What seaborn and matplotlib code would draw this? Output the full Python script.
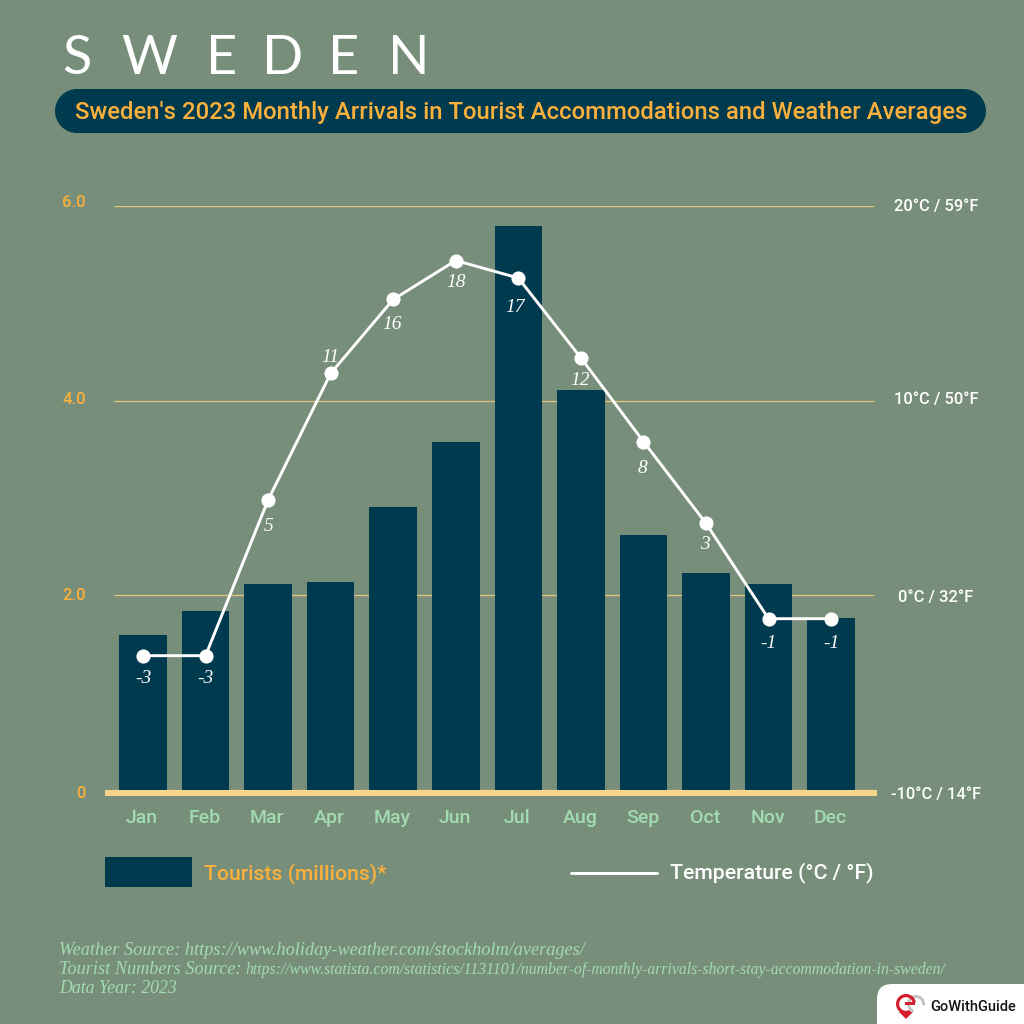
import matplotlib
matplotlib.use('Agg')
import matplotlib.pyplot as plt
import matplotlib.transforms as mtrans
import seaborn as sns
import pandas as pd
from matplotlib.patches import FancyBboxPatch, Rectangle, Circle, Polygon, Wedge

# --- datos ---
meses = ['Jan', 'Feb', 'Mar', 'Apr', 'May', 'Jun', 'Jul', 'Aug', 'Sep', 'Oct', 'Nov', 'Dec']
turistas = [1.59, 1.84, 2.12, 2.14, 2.91, 3.58, 5.79, 4.11, 2.62, 2.23, 2.12, 1.77]
# altura de la linea tal como se ve en la imagen (no coincide del todo con la etiqueta)
temp_linea = [-3.1, -3.1, 4.9, 11.4, 15.2, 17.2, 16.3, 12.2, 7.9, 3.7, -1.2, -1.2]
temp_etiquetas = ['-3', '-3', '5', '11', '16', '18', '17', '12', '8', '3', '-1', '-1']
ticks_izq = [0, 2, 4, 6]
ticks_izq_txt = ['0', '2.0', '4.0', '6.0']
ticks_der = [-10, 0, 10, 20]
ticks_der_txt = ['-10°C / 14°F', '0°C / 32°F', '10°C / 50°F', '20°C / 59°F']

# ajustes finos de las etiquetas, en pixeles
dy_etiqueta = [-23, -23, -27, 16, -25, -22, -29, -23, -27, -21, -25, -25]
dx_etiqueta = [0, 0, 0, 0, -1, 0, -3, -1, -1, -1, 0, 0]
dy_izq = [-2, 1, 3, 5]
dy_der = [-3, -1, 3, 1]

FONDO = '#778f7a'
AZUL = '#003a4f'
NARANJA = '#fbb03b'
VERDE = '#a3dbb0'
ARENA = '#f9d48c'
W = H = 1024
PT = 0.72


def fx(px):
    return px / W


def fy(py):
    return 1 - py / H


def mover_etiquetas(labels, desplazamientos):
    for label, d in zip(labels, desplazamientos):
        label.set_transform(label.get_transform() + mtrans.Affine2D().translate(0, d))


sns.set_theme(style='white')
plt.rcParams['font.family'] = ['Roboto', 'DejaVu Sans']

fig = plt.figure(figsize=(10.24, 10.24), dpi=100, facecolor=FONDO)
ax = fig.add_axes([fx(114), fy(790), fx(874 - 114), (790 - 206) / H])
ax.set_facecolor('none')

df = pd.DataFrame({'mes': meses, 'turistas': turistas, 'temp': temp_linea})
sns.barplot(data=df, x='mes', y='turistas', color=AZUL, width=0.76, saturation=1,
            edgecolor='none', linewidth=0, ax=ax, zorder=3)
ax.set_xlim(-0.464, 11.686)
ax.set_ylim(0, 6)
ax.set_xlabel('')
ax.set_ylabel('')
ax.set_yticks(ticks_izq, ticks_izq_txt)
ax.tick_params(axis='y', length=0, pad=28 * PT, labelsize=12, labelcolor=NARANJA)
ax.tick_params(axis='x', length=0, pad=13 * PT + 4, labelsize=14, labelcolor=VERDE)
ax.yaxis.grid(True, color='#e3c67c', lw=0.9)
ax.xaxis.grid(False)
ax.set_axisbelow(True)
sns.despine(ax=ax, left=True, bottom=True)
mover_etiquetas(ax.get_yticklabels(), dy_izq)
for label in ax.get_xticklabels() + ax.get_yticklabels():
    label.set_fontweight('medium')
for label in ax.get_xticklabels():
    label.set_transform(label.get_transform() + mtrans.Affine2D().translate(-1, 0))

# eje de temperatura
ax2 = ax.twinx()
ax2.set_facecolor('none')
sns.lineplot(x=list(range(12)), y=df['temp'], color='white', lw=2.1, marker='o', markersize=10.2,
             markeredgewidth=0, ax=ax2, zorder=5)
ax2.set_ylim(-10, 20)
ax2.set_ylabel('')
ax2.set_yticks(ticks_der, ticks_der_txt, ha='center')
ax2.tick_params(axis='y', length=0, pad=62 * PT, labelsize=11.8, labelcolor='white')
ax2.grid(False)
sns.despine(ax=ax2, left=True, bottom=True, right=True)
mover_etiquetas(ax2.get_yticklabels(), dy_der)
for label in ax2.get_yticklabels():
    label.set_fontweight('medium')

for i, (t, txt) in enumerate(zip(temp_linea, temp_etiquetas)):
    ax2.annotate(txt, (i, t), xytext=(dx_etiqueta[i] * PT, dy_etiqueta[i] * PT), textcoords='offset points',
                 ha='center', va='center', color='white', fontsize=14,
                 family='Liberation Serif', style='italic', zorder=6)

# linea base gruesa
fig.add_artist(Rectangle((fx(105), fy(796)), fx(877 - 105), 6 / H, color=ARENA, lw=0))

# titulo
letras = [('S', 77), ('W', 149.5), ('E', 222), ('D', 283), ('E', 344), ('N', 408.5)]
for letra, x in letras:
    fig.text(fx(x), fy(74), letra, ha='center', va='baseline', color='white', fontsize=39,
             family='Lato', weight='normal')

fig.add_artist(Rectangle((fx(77), fy(133)), fx(887), 44 / H, color=AZUL, lw=0))
fig.add_artist(Circle((fx(77), fy(111)), 22 / W, color=AZUL, lw=0))
fig.add_artist(Circle((fx(964), fy(111)), 22 / W, color=AZUL, lw=0))
fig.text(fx(521), fy(113), "Sweden's 2023 Monthly Arrivals in Tourist Accommodations and Weather Averages",
         ha='center', va='center', color=NARANJA, fontsize=17.2, weight='medium')

# leyenda
fig.add_artist(Rectangle((fx(105), fy(887)), fx(87), 30 / H, color=AZUL, lw=0))
fig.text(fx(204), fy(874), 'Tourists (millions)*', ha='left', va='center', color=NARANJA, fontsize=15.2, weight='medium')
fig.add_artist(plt.Line2D([fx(571), fx(657)], [fy(873), fy(873)], color='white', lw=2.1))
fig.text(fx(670), fy(873), 'Temperature (°C / °F)', ha='left', va='center', color='white', fontsize=15.3, weight='medium')

# fuentes
nota = dict(ha='left', va='baseline', color=VERDE, family='Liberation Serif', style='italic')
fig.text(fx(59), fy(955), 'Weather Source: https://www.holiday-weather.com/stockholm/averages/', fontsize=13.15, **nota)
fig.text(fx(59), fy(974), 'Tourist Numbers Source: ', fontsize=13.15, **nota)
fig.text(fx(245), fy(974), 'https://www.statista.com/statistics/1131101/number-of-monthly-arrivals-short-stay-accommodation-in-sweden/',
         fontsize=11.35, **nota)
fig.text(fx(59), fy(993), 'Data Year: 2023', fontsize=12.8, **nota)

# logo
fig.add_artist(FancyBboxPatch((fx(877), fy(1100)), fx(300), 116 / H, transform=fig.transFigure,
                              boxstyle=f'round,pad=0,rounding_size={15 / W}', facecolor='white', lw=0))
fig.add_artist(Wedge((fx(916), fy(1004)), 9 / W, -10, 250, width=3 / W, facecolor='#c4c4c4', lw=0))
fig.add_artist(Wedge((fx(906), fy(1004)), 10 / W, 10, 300, width=3.2 / W, facecolor='#d4202c', lw=0))
fig.add_artist(Rectangle((fx(905), fy(1005)), fx(10), 2.6 / H, color='#d4202c', lw=0))
fig.add_artist(Polygon([(fx(899), fy(1012)), (fx(913), fy(1012)), (fx(906), fy(1019))], facecolor='#d4202c', lw=0))
fig.text(fx(930), fy(1007), 'GoWithGuide', ha='left', va='center', color='#151515', fontsize=10.5, weight='medium')

fig.savefig('out.png', dpi=100, facecolor=FONDO)
